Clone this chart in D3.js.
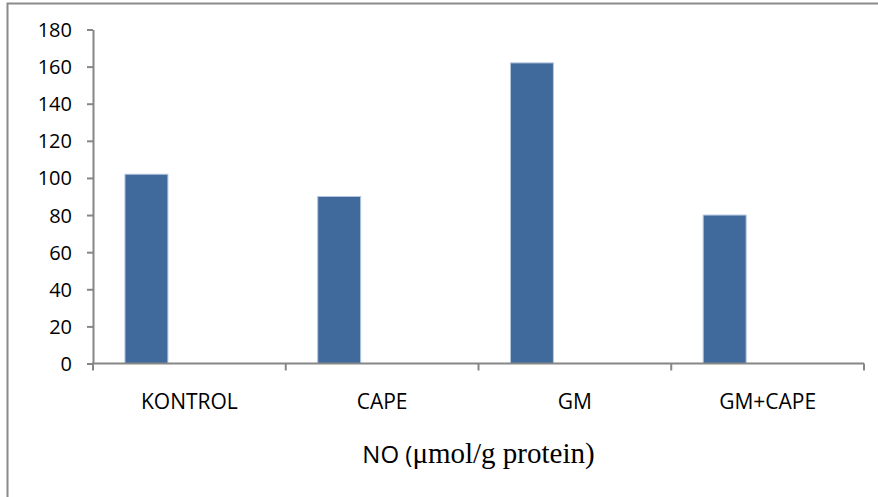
<!DOCTYPE html>
<html>
<head>
<meta charset="utf-8">
<script src="https://cdn.jsdelivr.net/npm/d3@7"></script>
<style>
  body { margin: 0; background: #fff; }
  .axis path, .axis line { stroke: #868686; stroke-width: 2; }
  .axis text { font-family: "Open Sans", sans-serif; font-size: 20px; fill: #000; }
</style>
</head>
<body>
<svg id="chart"></svg>
<script>
// chart values
const categories = ["KONTROL", "CAPE", "GM", "GM+CAPE"];
const series = ["s1", "s2", "s3"]; // only the first one has data
const noValues = [102, 90, 162, 80];
const yTicks = [0, 20, 40, 60, 80, 100, 120, 140, 160, 180];

const width = 878, height = 497;
const margin = { top: 29.5, right: 14, bottom: 133.5, left: 93 };

let svg = d3.select("#chart")
  .attr("width", width)
  .attr("height", height);

// outer frame (only top and left edges show)
svg.append("path")
  .attr("d", `M7.5,${height + 5} V3.5 H${width + 5}`)
  .attr("fill", "none")
  .attr("stroke", "#8a8a8a")
  .attr("stroke-width", 2);

let x0 = d3.scaleBand()
  .domain(categories)
  .range([margin.left, width - margin.right]);

let x1 = d3.scaleBand()
  .domain(series)
  .range([0, x0.bandwidth()])
  .paddingOuter(0.744);

let y = d3.scaleLinear()
  .domain([0, 180])
  .range([height - margin.bottom, margin.top]);

let yAxis = d3.axisLeft(y).tickValues(yTicks).tickSize(6).tickSizeOuter(0).tickPadding(15);

svg.append("g")
  .attr("class", "axis")
  .attr("transform", `translate(${margin.left},0)`)
  .call(yAxis)
  .call(g => g.selectAll("text").attr("dy", "0.35em"));

// bars
svg.append("g")
  .selectAll("rect")
  .data(categories)
  .enter()
  .append("rect")
  .attr("x", (d, i) => x0(d) + x1("s1"))
  .attr("y", (d, i) => y(noValues[i]))
  .attr("width", x1.bandwidth())
  .attr("height", (d, i) => y(0) - y(noValues[i]))
  .attr("fill", "#416a9c")
  .attr("stroke", "#b4c6de")
  .attr("stroke-width", 1);

// x axis with ticks at band edges
let xAxisG = svg.append("g")
  .attr("class", "axis")
  .attr("transform", `translate(0,${y(0)})`);

xAxisG.append("line")
  .attr("x1", margin.left - 1)
  .attr("x2", width - margin.right)
  .attr("y1", 0)
  .attr("y2", 0);

let edges = categories.map(c => x0(c)).concat([x0(categories[categories.length - 1]) + x0.bandwidth()]);

xAxisG.selectAll(".edge")
  .data(edges)
  .enter()
  .append("line")
  .attr("class", "edge")
  .attr("x1", d => d)
  .attr("x2", d => d)
  .attr("y1", 0)
  .attr("y2", 7);

xAxisG.selectAll(".lbl")
  .data(categories)
  .enter()
  .append("text")
  .attr("class", "lbl")
  .attr("x", d => x0(d) + x0.bandwidth() / 2)
  .attr("y", 45.5)
  .attr("text-anchor", "middle")
  .style("font-size", "21px")
  .text(d => d);

// axis title
let title = svg.append("text")
  .attr("x", (margin.left + width - margin.right) / 2)
  .attr("y", 463)
  .attr("text-anchor", "middle");

title.append("tspan")
  .attr("font-family", "'Open Sans', sans-serif")
  .attr("font-size", "24px")
  .text("NO (");

title.append("tspan")
  .attr("font-family", "'Liberation Serif', serif")
  .attr("font-size", "29px")
  .text("μmol/g protein)");
</script>
</body>
</html>
